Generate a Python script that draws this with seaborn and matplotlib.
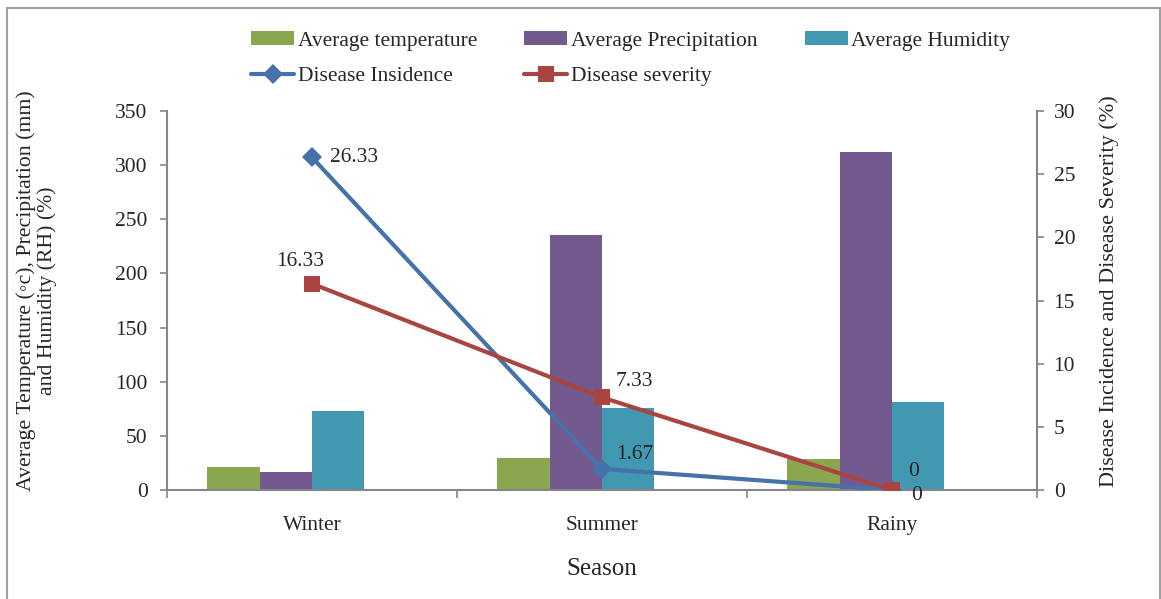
import numpy as np
import pandas as pd
import matplotlib
matplotlib.use("Agg")
import matplotlib.pyplot as plt
from matplotlib.patches import Patch, Rectangle
from matplotlib.lines import Line2D
from matplotlib.ticker import FixedLocator, NullFormatter
import seaborn as sns

# Seasonal weather and disease data
seasons = ["Winter", "Summer", "Rainy"]
avg_temperature = [21.0, 30.0, 28.5]
avg_precipitation = [17.0, 235.5, 312.5]
avg_humidity = [73.0, 76.0, 81.5]
disease_incidence = [26.33, 1.67, 0.0]
disease_severity = [16.33, 7.33, 0.0]

bar_series = ["Average temperature", "Average Precipitation", "Average Humidity"]
line_series = ["Disease Insidence", "Disease severity"]
left_ticks = [0, 50, 100, 150, 200, 250, 300, 350]
right_ticks = [0, 5, 10, 15, 20, 25, 30]

c_temp = "#8AA64E"
c_prec = "#72598E"
c_hum = "#4298B0"
c_inc = "#4672AA"
c_sev = "#AA4441"
axis_gray = "#868686"

sns.set_theme(style="white")
plt.rcParams["font.family"] = ["Liberation Serif", "DejaVu Serif"]

# Long-form table; an empty fourth slot keeps the bar groups left of centre
spare = ""
rows = []
for name, vals in zip(bar_series, [avg_temperature, avg_precipitation, avg_humidity]):
    for s, v in zip(seasons, vals):
        rows.append({"Season": s, "series": name, "value": v})
for s in seasons:
    rows.append({"Season": s, "series": spare, "value": 0.0})
bars = pd.DataFrame(rows)

fig = plt.figure(figsize=(11.61, 5.99), dpi=100)
ax = fig.add_axes([167 / 1161, 1 - 490 / 599, 870 / 1161, 379 / 599])

sns.barplot(
    data=bars, x="Season", y="value", hue="series",
    order=seasons, hue_order=bar_series + [spare],
    palette=[c_temp, c_prec, c_hum, "white"],
    width=0.724, gap=0, linewidth=0, saturation=1,
    legend=False, ax=ax,
)

ax.set_xlim(-0.5, 2.5)
ax.set_ylim(0, 350)
ax.set_yticks(left_ticks)
ax.tick_params(axis="y", which="major", left=True, length=5, width=1.2,
               color=axis_gray, labelsize=15.5, pad=9, direction="out")
ax.xaxis.set_minor_locator(FixedLocator([-0.5, 0.5, 1.5, 2.5]))
ax.xaxis.set_minor_formatter(NullFormatter())
ax.tick_params(axis="x", which="major", length=0, labelsize=15.5, pad=19)
ax.tick_params(axis="x", which="minor", bottom=True, length=6, width=1.2,
               color=axis_gray, direction="out")
ax.set_xlabel("Season", fontsize=18, labelpad=16)
ax.set_ylabel("Average Temperature (\u25e6c), Precipitation (mm)\nand Humidity (RH) (%)",
              fontsize=15.7, linespacing=1.1)
ax.yaxis.set_label_coords(-0.1265, 0.525)

for side in ["top", "right"]:
    ax.spines[side].set_visible(False)
for side in ["left", "bottom"]:
    ax.spines[side].set_color(axis_gray)
    ax.spines[side].set_linewidth(1.5)

# Disease measures on the secondary axis
ax2 = ax.twinx()
xpos = np.arange(len(seasons))
sns.lineplot(x=xpos, y=disease_incidence, color=c_inc, marker="D", markersize=10,
             markeredgewidth=0, linewidth=3, ax=ax2, legend=False)
sns.lineplot(x=xpos, y=disease_severity, color=c_sev, marker="s", markersize=11,
             markeredgewidth=0, linewidth=3, ax=ax2, legend=False)
ax2.set_ylim(0, 30)
ax2.set_xlim(-0.5, 2.5)
ax2.set_yticks(right_ticks)
ax2.tick_params(axis="y", right=True, length=5, width=1.2, color=axis_gray,
                labelsize=15.5, pad=7, direction="out")
ax2.set_ylabel("Disease Incidence and Disease Severity (%)", fontsize=16)
ax2.yaxis.set_label_coords(1.071, 0.525)
for side in ["top", "left", "bottom"]:
    ax2.spines[side].set_visible(False)
ax2.spines["right"].set_color(axis_gray)
ax2.spines["right"].set_linewidth(1.5)

# Value labels
inc_offsets = [(18, 0, "left", "center"), (14, 14, "left", "center"), (16, 19, "left", "center")]
sev_offsets = [(-12, 22, "center", "center"), (14, 16, "left", "center"), (19, -5, "left", "center")]
for x, v, (dx, dy, ha, va) in zip(xpos, disease_incidence, inc_offsets):
    ax2.annotate(f"{v:g}", (x, v), xytext=(dx, dy), textcoords="offset pixels",
                 ha=ha, va=va, fontsize=15.5)
for x, v, (dx, dy, ha, va) in zip(xpos, disease_severity, sev_offsets):
    ax2.annotate(f"{v:g}", (x, v), xytext=(dx, dy), textcoords="offset pixels",
                 ha=ha, va=va, fontsize=15.5)

# Legend: three columns, bars on the first row and lines on the second
h_temp = Patch(facecolor=c_temp, edgecolor="none")
h_prec = Patch(facecolor=c_prec, edgecolor="none")
h_hum = Patch(facecolor=c_hum, edgecolor="none")
h_inc = Line2D([], [], color=c_inc, marker="D", markersize=10, linewidth=3, markeredgewidth=0)
h_sev = Line2D([], [], color=c_sev, marker="s", markersize=11, linewidth=3, markeredgewidth=0)
fig.legend(
    [h_temp, h_inc, h_prec, h_sev, h_hum],
    [bar_series[0], line_series[0], bar_series[1], line_series[1], bar_series[2]],
    ncol=3, loc="upper left", bbox_to_anchor=(232 / 1161, 1 - 12 / 599),
    frameon=False, fontsize=15.5, handlelength=2.0, handleheight=0.6,
    handletextpad=0.15, columnspacing=2.2, labelspacing=0.75,
)

# Outer frame
fig.add_artist(Rectangle((7 / 1161, -0.05), 1153 / 1161, 1.05 - 8 / 599,
                         transform=fig.transFigure, fill=False,
                         edgecolor="#A0A0A0", linewidth=1.5))

fig.savefig("out.png", dpi=100)
